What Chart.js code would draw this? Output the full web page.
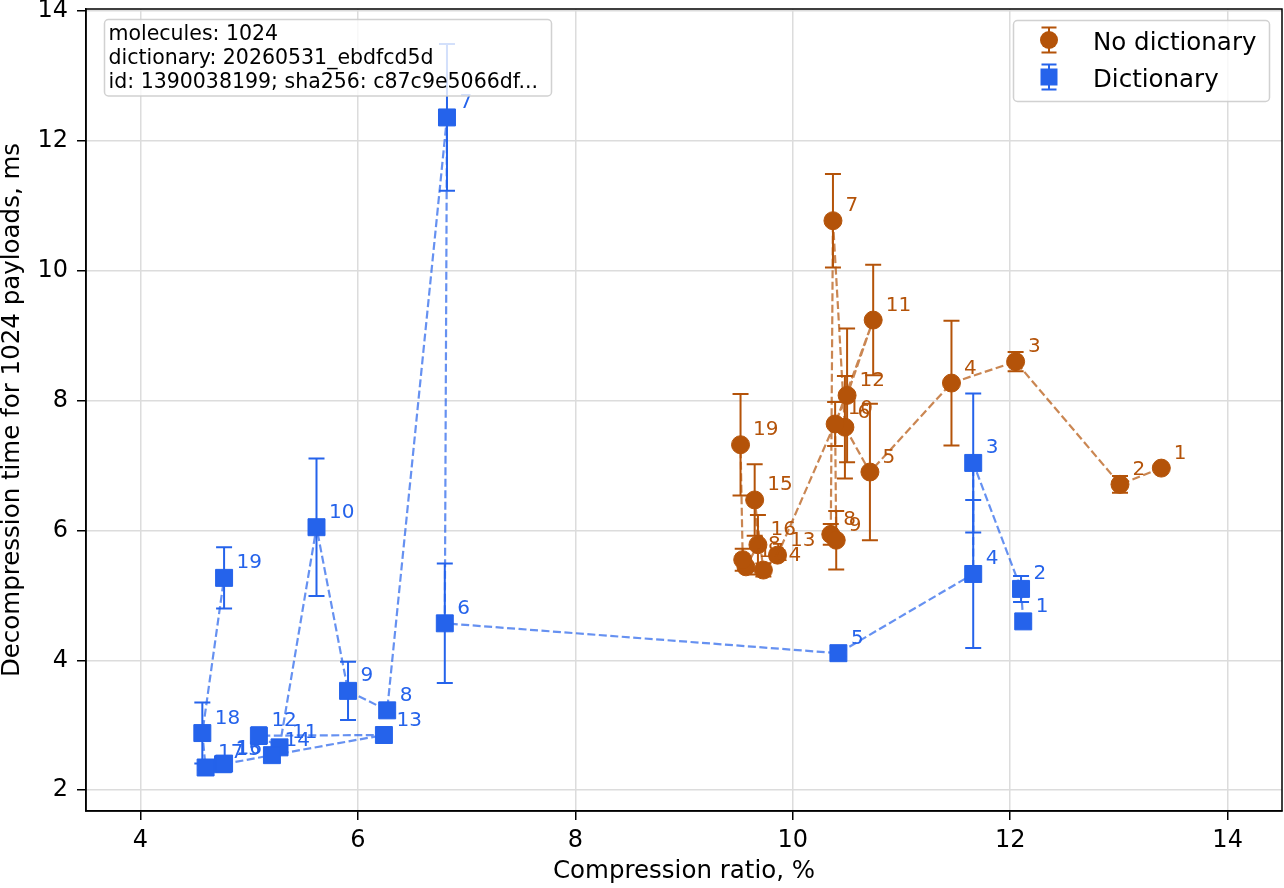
<!DOCTYPE html>
<html><head><meta charset="utf-8">
<script src="https://cdn.jsdelivr.net/npm/chart.js@4.4.0/dist/chart.umd.min.js"></script>
<style>html,body{margin:0;padding:0;background:#fff;overflow:hidden}#wrap{width:1284px;height:888px}</style>
</head><body><div id="wrap"><canvas id="c" width="1284" height="888"></canvas></div>
<script>
// ---- data ----
const pointLabels = ['1','2','3','4','5','6','7','8','9','10','11','12','13','14','15','16','17','18','19'];
const seriesNames = ['No dictionary', 'Dictionary'];
const noDictX   = [13.39, 13.01, 12.05, 11.46, 10.71, 10.48, 10.37, 10.35, 10.40, 10.39, 10.74, 10.50, 9.86, 9.73, 9.65, 9.68, 9.57, 9.54, 9.52];
const noDictY   = [6.96, 6.71, 8.60, 8.27, 6.90, 7.59, 10.77, 5.94, 5.85, 7.64, 9.24, 8.08, 5.62, 5.39, 6.47, 5.78, 5.44, 5.55, 7.32];
const noDictErr = [0.03, 0.13, 0.15, 0.96, 1.05, 0.79, 0.72, 0.16, 0.45, 0.34, 0.85, 1.03, 0.07, 0.10, 0.55, 0.46, 0.05, 0.17, 0.78];
const dictX     = [12.12, 12.10, 11.66, 11.66, 10.42, 6.80, 6.82, 6.27, 5.91, 5.62, 5.28, 5.09, 6.24, 5.21, 4.76, 4.77, 4.60, 4.57, 4.77];
const dictY     = [4.60, 5.10, 7.04, 5.33, 4.11, 4.57, 12.36, 3.23, 3.53, 6.05, 2.66, 2.84, 2.85, 2.54, 2.40, 2.41, 2.35, 2.88, 5.27];
const dictErr   = [0.03, 0.20, 1.07, 1.14, 0.05, 0.92, 1.13, 0.05, 0.45, 1.06, 0.04, 0.13, 0.03, 0.05, 0.04, 0.05, 0.04, 0.47, 0.47];
const xTicks = [4, 6, 8, 10, 12, 14];
const yTicks = [2, 4, 6, 8, 10, 12, 14];
const xTitle = 'Compression ratio, %';
const yTitle = 'Decompression time for 1024 payloads, ms';
const infoLines = ['molecules: 1024', 'dictionary: 20260531_ebdfcd5d', 'id: 1390038199; sha256: c87c9e5066df...'];

const ORANGE = '#b45309', ORANGE_L = 'rgba(180,83,9,0.7)';
const BLUE = '#2563eb', BLUE_L = 'rgba(37,99,235,0.7)';
const FONT = 'DejaVu Sans';

function mk(xs, ys) { return xs.map((x, i) => ({x: x, y: ys[i]})); }

const datasets = [
  {label: seriesNames[1], data: mk(dictX, dictY), errs: dictErr, solid: BLUE,
   showLine: true, borderColor: BLUE_L, borderWidth: 2.2, borderDash: [8, 3.5],
   pointStyle: 'rect', pointRadius: 12, pointBackgroundColor: BLUE, pointBorderColor: BLUE, pointBorderWidth: 1},
  {label: seriesNames[0], data: mk(noDictX, noDictY), errs: noDictErr, solid: ORANGE,
   showLine: true, borderColor: ORANGE_L, borderWidth: 2.2, borderDash: [8, 3.5],
   pointStyle: 'circle', pointRadius: 9, pointBackgroundColor: ORANGE, pointBorderColor: ORANGE, pointBorderWidth: 1}
];

const errorBars = {
  id: 'errorBars',
  beforeDatasetDraw(chart, args) {
    const ds = chart.data.datasets[args.index];
    const xs = chart.scales.x, ys = chart.scales.y, ctx = chart.ctx;
    ctx.save();
    ctx.beginPath();
    ctx.rect(chart.chartArea.left, chart.chartArea.top, chart.chartArea.width, chart.chartArea.height);
    ctx.clip();
    ctx.strokeStyle = ds.solid; ctx.lineWidth = 2; ctx.setLineDash([]);
    ds.data.forEach((p, i) => {
      const e = ds.errs[i];
      const px = xs.getPixelForValue(p.x);
      const y0 = ys.getPixelForValue(p.y - e), y1 = ys.getPixelForValue(p.y + e);
      ctx.beginPath();
      ctx.moveTo(px, y0); ctx.lineTo(px, y1);
      ctx.moveTo(px - 8, y0); ctx.lineTo(px + 8, y0);
      ctx.moveTo(px - 8, y1); ctx.lineTo(px + 8, y1);
      ctx.stroke();
    });
    ctx.restore();
  }
};

const overlay = {
  id: 'overlay',
  afterDatasetsDraw(chart) {
    const ctx = chart.ctx, xs = chart.scales.x, ys = chart.scales.y;
    ctx.save();
    ctx.font = '20px "' + FONT + '"';
    ctx.textAlign = 'left'; ctx.textBaseline = 'alphabetic';
    chart.data.datasets.forEach(ds => {
      ctx.fillStyle = ds.solid;
      ds.data.forEach((p, i) => {
        ctx.fillText(pointLabels[i], xs.getPixelForValue(p.x) + 12.5, ys.getPixelForValue(p.y) - 9.5);
      });
    });
    const a = chart.chartArea;
    ctx.strokeStyle = '#000'; ctx.lineWidth = 1.5;
    ctx.strokeRect(a.left, a.top, a.right - a.left, a.bottom - a.top);
    ctx.restore();
  },
  afterDraw(chart) {
    const ctx = chart.ctx;
    ctx.save();
    ctx.beginPath();
    ctx.roundRect(104.5, 19.5, 447, 76.5, 4);
    ctx.fillStyle = 'rgba(255,255,255,0.8)'; ctx.fill();
    ctx.strokeStyle = 'rgba(204,204,204,0.9)'; ctx.lineWidth = 1.5; ctx.stroke();
    ctx.fillStyle = '#000';
    ctx.font = '20.5px "' + FONT + '"';
    ctx.textBaseline = 'alphabetic'; ctx.textAlign = 'left';
    infoLines.forEach((t, i) => ctx.fillText(t, 108.5, 40 + i * 24));
    ctx.beginPath();
    ctx.roundRect(1013.5, 20.5, 256, 81, 4);
    ctx.fillStyle = 'rgba(255,255,255,0.8)'; ctx.fill();
    ctx.strokeStyle = 'rgba(204,204,204,0.9)'; ctx.stroke();
    const rows = [{y: 40, c: ORANGE, shape: 'circle', name: seriesNames[0]},
                  {y: 77, c: BLUE, shape: 'rect', name: seriesNames[1]}];
    rows.forEach(r => {
      const cx = 1049;
      ctx.strokeStyle = r.c; ctx.lineWidth = 2; ctx.setLineDash([]);
      ctx.beginPath();
      ctx.moveTo(cx, r.y - 12.5); ctx.lineTo(cx, r.y + 12.5);
      ctx.moveTo(cx - 7.5, r.y - 12.5); ctx.lineTo(cx + 7.5, r.y - 12.5);
      ctx.moveTo(cx - 7.5, r.y + 12.5); ctx.lineTo(cx + 7.5, r.y + 12.5);
      ctx.stroke();
      ctx.fillStyle = r.c;
      ctx.beginPath();
      if (r.shape === 'circle') ctx.arc(cx, r.y, 9, 0, Math.PI * 2);
      else ctx.rect(cx - 8.5, r.y - 8.5, 17, 17);
      ctx.fill();
      ctx.fillStyle = '#000';
      ctx.font = '24.5px "' + FONT + '"';
      ctx.fillText(r.name, 1093, r.y + 10);
    });
    ctx.restore();
  }
};

const axisCommon = {
  grid: {color: '#dcdcdc', lineWidth: 1.5, tickColor: '#000', tickLength: 9, tickWidth: 1.5, drawTicks: true},
  border: {display: true, color: '#000', width: 1.5},
  ticks: {color: '#000', font: {family: FONT, size: 24}, autoSkip: false, maxRotation: 0, includeBounds: false}
};
function noPad(s) { s.paddingTop = 0; s.paddingBottom = 0; s.paddingLeft = 0; s.paddingRight = 0; }

new Chart(document.getElementById('c'), {
  type: 'scatter',
  data: {datasets: datasets},
  options: {
    responsive: false, animation: false, devicePixelRatio: 1,
    layout: {autoPadding: false, padding: {top: 9, right: 2, left: 0, bottom: 0}},
    plugins: {legend: {display: false}, tooltip: {enabled: false}},
    scales: {
      x: Object.assign({}, axisCommon, {
        type: 'linear', min: 3.5, max: 14.5,
        ticks: Object.assign({}, axisCommon.ticks, {padding: 6}),
        afterBuildTicks: s => { s.ticks = xTicks.map(v => ({value: v})); },
        afterFit: s => { s.height = 77; noPad(s); },
        title: {display: true, text: xTitle, color: '#000', font: {family: FONT, size: 24.5, lineHeight: 1}, padding: {top: 0, bottom: 4}}
      }),
      y: Object.assign({}, axisCommon, {
        type: 'linear', min: 1.68, max: 14.03,
        ticks: Object.assign({}, axisCommon.ticks, {padding: 9}),
        afterBuildTicks: s => { s.ticks = yTicks.map(v => ({value: v})); },
        afterFit: s => { s.width = 86; noPad(s); },
        title: {display: true, text: yTitle, color: '#000', font: {family: FONT, size: 24.5, lineHeight: 1}, padding: {top: 0, bottom: 0}}
      })
    }
  },
  plugins: [errorBars, overlay]
});
</script></body></html>
